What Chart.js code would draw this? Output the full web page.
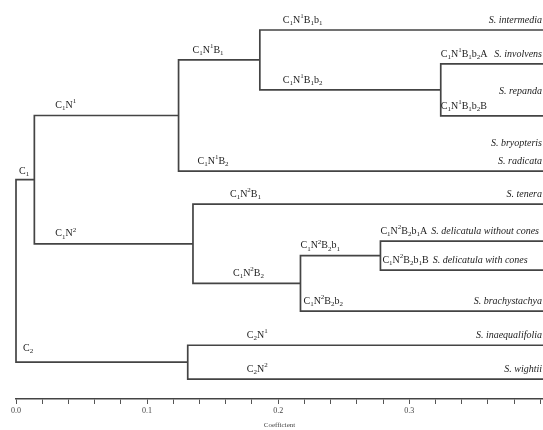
<!DOCTYPE html>
<html>
<head>
<meta charset="utf-8">
<script src="https://cdn.jsdelivr.net/npm/chart.js@4.4.1/dist/chart.umd.min.js"></script>
<style>
  html, body { margin: 0; padding: 0; background: #fff; overflow: hidden; }
  #wrap { width: 543px; height: 430px; }
</style>
</head>
<body>
<div id="wrap"><canvas id="dendro"></canvas></div>
<script>
// leaves (top to bottom) and their row positions
const leafNames = ['S. intermedia', 'S. involvens', 'S. repanda', 'S. bryopteris', 'S. radicata',
  'S. tenera', 'S. delicatula without cones', 'S. delicatula with cones', 'S. brachystachya',
  'S. inaequalifolia', 'S. wightii'];
const leafRows = [0.86, 1.83, 3.32, 4.90, 4.90, 5.85, 6.91, 7.74, 8.91, 9.89, 10.86];
const leafCodes = ['C1N1B1b1', 'C1N1B1b2A', 'C1N1B1b2B', '', '', 'C1N2B1', 'C1N2B2b1A', 'C1N2B2b1B',
  'C1N2B2b2', 'C2N1', 'C2N2'];
const leafEnd = 0.402;

// merges: left child, right child, coefficient (new node ids start after the leaves)
const mergeLeft   = [3, 1, 0, 13, 6, 15, 5, 14, 9, 18];
const mergeRight  = [4, 2, 12, 11, 7, 8, 16, 17, 10, 19];
const mergeHeight = [0.402, 0.324, 0.186, 0.124, 0.278, 0.217, 0.135, 0.014, 0.131, 0];
const mergeCodes  = ['C1N1B2', 'C1N1B1b2', 'C1N1B1', 'C1N1', 'C1N2B2b1', 'C1N2B2', 'C1N2', 'C1', 'C2', ''];

// axis
const tickStep = 0.02;
const axisTitle = 'Coefficient';

// label placement (pixels relative to parent junction / branch)
const labelDx = { C1N1: 21, C1N2: 21, C1N1B1: 14, C1N1B2: 19, C1N1B1b1: 23, C1N1B1b2: 23,
  C1N2B1: 37, C1N2B2: 40, C1N2B2b1: 0, C1N2B2b2: 3, C1N1B1b2A: 0, C1N1B1b2B: 0,
  C1N2B2b1A: 0, C1N2B2b1B: 2, C2N1: 59, C2N2: 59, C1: 3, C2: 7 };
const labelDy = { C1: -8, C2: -14 };
const nameDy = { 'S. repanda': -25, 'S. bryopteris': -28 };

const nLeaf = leafNames.length;
const pos = {};
const parent = {};
leafNames.forEach((n, i) => { pos[i] = { h: leafEnd, y: leafRows[i] }; });
const segments = [];
mergeLeft.forEach((a, k) => {
  const b = mergeRight[k];
  const h = mergeHeight[k];
  const id = nLeaf + k;
  pos[id] = { h: h, y: (pos[a].y + pos[b].y) / 2 };
  parent[a] = id; parent[b] = id;
  segments.push([
    { x: pos[a].h, y: pos[a].y }, { x: h, y: pos[a].y },
    { x: h, y: pos[b].y }, { x: pos[b].h, y: pos[b].y }
  ]);
});

const datasets = segments.map(pts => ({
  data: pts,
  showLine: true,
  borderColor: '#444',
  borderWidth: 1.7,
  pointRadius: 0,
  tension: 0,
  clip: false
}));

function drawCode(ctx, code, x, y) {
  let prev = '';
  for (const ch of code) {
    if (/\d/.test(ch)) {
      ctx.font = '7px "Liberation Serif"';
      ctx.fillText(ch, x, y + (prev === 'N' ? -4 : 3));
    } else {
      ctx.font = '10px "Liberation Serif"';
      ctx.fillText(ch, x, y);
    }
    x += ctx.measureText(ch).width;
    prev = ch;
  }
  return x;
}

const labelPlugin = {
  id: 'labels',
  afterDatasetsDraw(chart) {
    const ctx = chart.ctx;
    const xs = chart.scales.x, ys = chart.scales.y;
    ctx.save();
    ctx.fillStyle = '#222';
    ctx.textBaseline = 'middle';
    const codeAt = (id, code) => {
      if (!code || parent[id] === undefined) return null;
      const px = xs.getPixelForValue(pos[parent[id]].h) + (labelDx[code] || 0);
      const py = ys.getPixelForValue(pos[id].y) + (labelDy[code] !== undefined ? labelDy[code] : -10);
      ctx.textAlign = 'left';
      return drawCode(ctx, code, px, py);
    };
    mergeCodes.forEach((c, k) => codeAt(nLeaf + k, c));
    leafNames.forEach((name, i) => {
      const code = leafCodes[i];
      const py = ys.getPixelForValue(leafRows[i]) + (nameDy[name] !== undefined ? nameDy[name] : -10);
      if (code === 'C1N2B2b1A' || code === 'C1N2B2b1B') {
        const endX = codeAt(i, code);
        ctx.font = 'italic 10px "Liberation Serif"';
        ctx.textAlign = 'left';
        ctx.fillText(name, endX + 4, py);
        return;
      }
      codeAt(i, code);
      ctx.font = 'italic 10px "Liberation Serif"';
      ctx.textAlign = 'right';
      ctx.fillText(name, chart.chartArea.right - 1, py);
    });
    ctx.restore();
  }
};

new Chart(document.getElementById('dendro').getContext('2d'), {
  type: 'scatter',
  data: { datasets: datasets },
  options: {
    responsive: true,
    maintainAspectRatio: false,
    animation: false,
    layout: { padding: { left: 16, right: 0, top: 0, bottom: 0 } },
    plugins: { legend: { display: false }, tooltip: { enabled: false } },
    scales: {
      x: {
        type: 'linear',
        position: 'bottom',
        min: 0,
        max: leafEnd,
        grid: { drawOnChartArea: false, tickLength: 5, color: '#555', tickWidth: 1 },
        border: { color: '#444', width: 1.5 },
        ticks: {
          stepSize: tickStep,
          includeBounds: false,
          autoSkip: false,
          maxRotation: 0,
          padding: 2,
          color: '#444',
          font: { family: 'Liberation Serif', size: 8 },
          callback: v => {
            const t = v * 10;
            if (Math.abs(t - Math.round(t)) < 1e-6 && Math.round(t) < 4) return (Math.round(t) / 10).toFixed(1);
            return '';
          }
        },
        title: {
          display: true, text: axisTitle, color: '#444',
          font: { family: 'Liberation Serif', size: 7 }, padding: { top: 0, bottom: 1 }
        },
        afterFit: s => { s.paddingLeft = 0; s.paddingRight = 0; s.height = 31; }
      },
      y: { type: 'linear', reverse: true, min: 0, max: 11.43, display: false }
    }
  },
  plugins: [labelPlugin]
});
</script>
</body>
</html>
